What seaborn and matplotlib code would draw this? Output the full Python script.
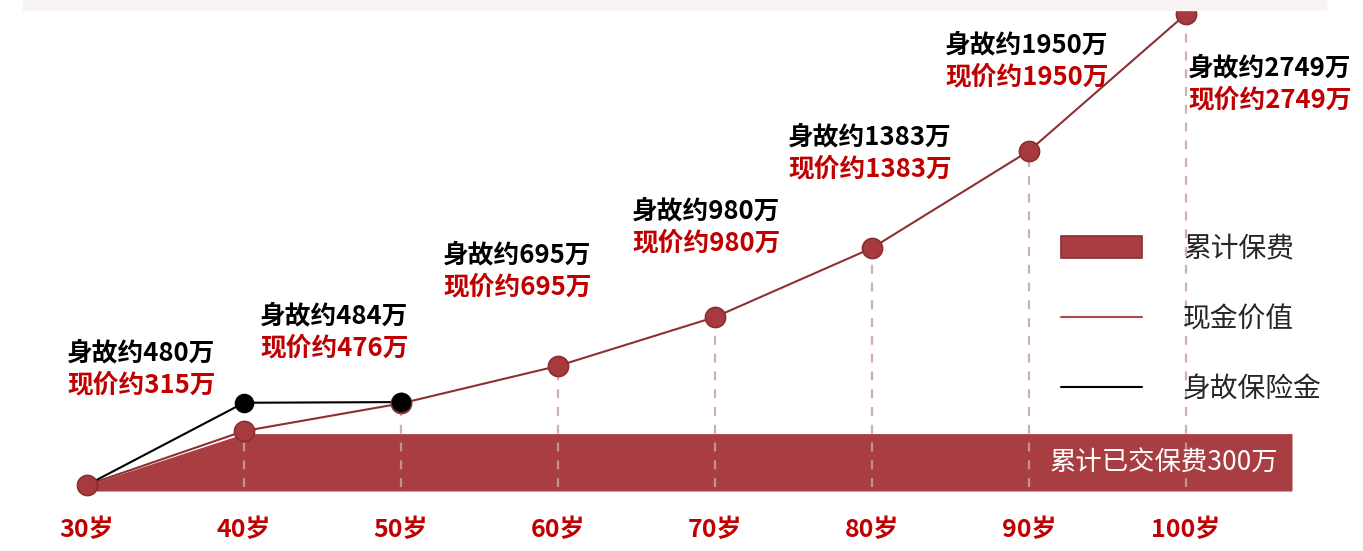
import numpy as np
import pandas as pd
import seaborn as sns
import matplotlib.pyplot as plt
from matplotlib.patches import Patch, Rectangle
from matplotlib.lines import Line2D

# data (万)
ages = [30, 40, 50, 60, 70, 80, 90, 100]
cash_value = [0, 315, 476, 695, 980, 1383, 1950, 2749]
death_ages = [30, 40, 50]
death_benefit = [0, 480, 484]
death_labels = [480, 484, 695, 980, 1383, 1950, 2749]
cash_labels = [315, 476, 695, 980, 1383, 1950, 2749]
premium = [0, 300, 300, 300, 300, 300, 300, 300]
premium_total = 300

sns.set_style("white")
plt.rcParams['font.family'] = ['Noto Sans CJK SC', 'DejaVu Sans']

W, H = 1363, 551
fig = plt.figure(figsize=(W / 100, H / 100), dpi=100)

# pixel <-> data mapping
px_per_year = (1186 - 87) / 70
val_per_px = 2749 / (485 - 14)
x0 = 30 - 87 / px_per_year
x1 = 30 + (W - 87) / px_per_year
ax_bottom_px = 500
y0 = -(ax_bottom_px - 485) * val_per_px
y1 = 2749 + 14 * val_per_px

ax = fig.add_axes([0, (H - ax_bottom_px) / H, 1, ax_bottom_px / H])
ax.set_xlim(x0, x1)
ax.set_ylim(y0, y1)


def px2data(px, py):
    return x0 + px / px_per_year, (485 - py) * val_per_px


# light band on top
fig.patches.append(Rectangle((23 / W, 1 - 10 / H), (1326 - 23) / W, 10 / H,
                             transform=fig.transFigure, color='#f8f4f3', zorder=0))

red_fill = '#a83e42'
line_red = '#8e2f33'
bar_bottom = -35
bar_end = ages[-1] + (1292 - 1186) / px_per_year

# cumulative premium band
px_fill = ages + [bar_end]
py_fill = premium + [premium[-1]]
ax.fill_between(px_fill, bar_bottom, py_fill, color=red_fill, lw=0, zorder=1)
ax.text(bar_end - 0.9, (premium_total + bar_bottom) / 2 - 5, f"累计已交保费{premium_total}万",
        color='white', fontsize=19, ha='right', va='center', zorder=5)

# dashed guides
ax.vlines(ages[1:], bar_bottom + 25, cash_value[1:], colors='#c9a0a4', alpha=0.85,
          linestyles=(0, (4, 4)), lw=1.6, zorder=2)

df_cash = pd.DataFrame({'age': ages, 'value': cash_value})
df_death = pd.DataFrame({'age': death_ages, 'value': death_benefit})

sns.lineplot(data=df_cash, x='age', y='value', color=line_red, lw=1.5, ax=ax, zorder=3)
sns.lineplot(data=df_death, x='age', y='value', color='black', lw=1.5, ax=ax, zorder=4)
sns.scatterplot(data=df_cash, x='age', y='value', color='#a63a3f', edgecolor='#8a2e33',
                linewidth=1.2, s=210, ax=ax, zorder=5)
sns.scatterplot(data=df_death.iloc[1:], x='age', y='value', color='black', edgecolor='black',
                s=170, ax=ax, zorder=6)

# value labels (pixel anchors of first line, left aligned)
label_px = [(67, 353), (260, 316), (443, 255), (632, 211), (788, 137), (945, 45), (1188, 68)]
for (lx, ly), d, c in zip(label_px, death_labels, cash_labels):
    tx, ty = px2data(lx, ly)
    ax.text(tx, ty, f"身故约{d}万", color='black', fontsize=18.5, fontweight='bold',
            ha='left', va='center', zorder=7)
    tx, ty = px2data(lx, ly + 32)
    ax.text(tx, ty, f"现价约{c}万", color='#c00000', fontsize=18.5, fontweight='bold',
            ha='left', va='center', zorder=7)

# x axis
ax.set_xticks(ages)
ax.set_xticklabels([f"{a}岁" for a in ages], color='#c00000', fontsize=18, fontweight='bold')
ax.tick_params(axis='x', length=0, pad=13)
ax.set_yticks([])
ax.set_xlabel('')
ax.set_ylabel('')
sns.despine(ax=ax, left=True, bottom=True)

# legend
handles = [Patch(facecolor=red_fill, edgecolor='#8a2e33', lw=1.2),
           Line2D([], [], color='#b5484c', lw=1.5),
           Line2D([], [], color='black', lw=1.5)]
leg = ax.legend(handles, ['累计保费', '现金价值', '身故保险金'], loc='upper left',
                bbox_to_anchor=(1061 / W, 1 - 234 / ax_bottom_px), frameon=False,
                fontsize=20, handlelength=2.9, handleheight=0.85, handletextpad=1.5,
                labelspacing=1.45, borderpad=0, borderaxespad=0)
ax.grid(False)

fig.savefig('out.png', dpi=100)
